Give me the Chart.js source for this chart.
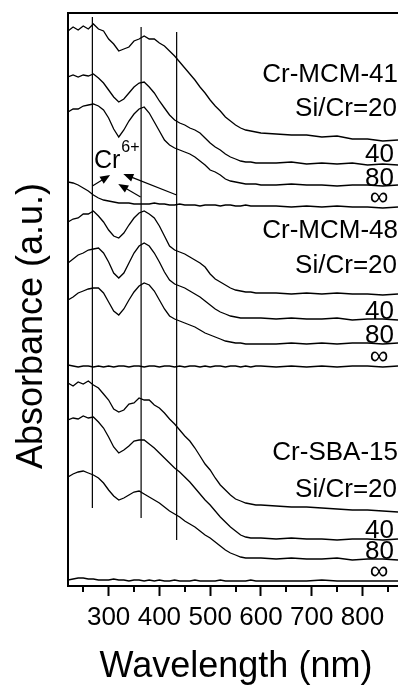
<!DOCTYPE html>
<html>
<head>
<meta charset="utf-8">
<script src="https://cdn.jsdelivr.net/npm/chart.js@4.4.1/dist/chart.umd.min.js"></script>
<style>
  html, body { margin: 0; padding: 0; background: #fff; }
  canvas { display: block; }
</style>
</head>
<body>
<canvas id="uvChart" width="398" height="685"></canvas>
<script>
// wavelength grid (nm)
const wavelengths = [220, 230, 240, 250, 260, 270, 280, 290, 300, 310, 320, 330, 340, 350, 360, 370, 380, 390, 400,
    410, 420, 430, 440, 450, 460, 470, 480, 490, 500, 510, 520, 530, 540, 550, 560, 570, 580, 590, 600,
    630, 660, 690, 720, 750, 780, 810, 840, 870];

// stacked absorbance (a.u., offset)
const mcm41_20 = [555, 559, 556, 560, 557, 562, 557, 555, 547, 542, 535, 537, 539, 545, 547, 550, 547, 547, 543,
    540, 535, 530, 524, 518, 512, 506, 499, 493, 486, 480, 475, 469, 465, 461, 458, 456, 455, 454, 453,
    452, 451, 451, 449, 450, 447, 447, 445, 446];
const mcm41_40 = [509, 511, 509, 511, 510, 512, 508, 503, 496, 489, 484, 487, 493, 499, 503, 504, 499, 493, 485,
    478, 471, 466, 463, 461, 458, 456, 453, 448, 443, 439, 436, 432, 429, 427, 425, 424, 424, 423, 423,
    423, 424, 422, 423, 422, 423, 421, 422, 421];
const mcm41_80 = [474, 477, 477, 480, 481, 482, 480, 476, 468, 457, 449, 456, 465, 472, 477, 479, 473, 464, 455,
    446, 441, 438, 436, 434, 432, 429, 425, 421, 416, 414, 411, 407, 405, 404, 403, 402, 402, 402, 401,
    401, 402, 401, 401, 400, 401, 401, 400, 401];
const mcm41_inf = [404, 403, 401, 398, 395, 391, 388, 386, 385, 384, 383, 383, 383, 382, 382, 382, 382, 383, 382,
    382, 381, 381, 382, 381, 381, 381, 380, 381, 381, 381, 380, 381, 381, 380, 380, 381, 380, 380, 380,
    380, 379, 380, 379, 380, 379, 379, 378, 379];

const mcm48_20 = [364, 367, 368, 372, 372, 375, 370, 364, 356, 350, 348, 353, 361, 368, 373, 375, 372, 368, 360,
    350, 340, 336, 334, 332, 329, 326, 323, 319, 312, 307, 304, 301, 298, 296, 295, 294, 294, 293, 293,
    293, 292, 293, 292, 293, 292, 292, 291, 292];
const mcm48_40 = [323, 327, 331, 333, 336, 337, 338, 333, 324, 313, 308, 313, 323, 333, 340, 343, 340, 333, 324,
    314, 306, 302, 300, 298, 295, 292, 289, 285, 281, 277, 274, 272, 270, 269, 268, 268, 268, 268, 268,
    267, 268, 267, 267, 268, 266, 267, 267, 266];
const mcm48_80 = [286, 289, 293, 295, 297, 298, 298, 293, 284, 275, 271, 277, 286, 294, 300, 303, 301, 295, 286,
    277, 270, 267, 265, 263, 261, 259, 256, 253, 251, 249, 247, 245, 244, 243, 243, 242, 242, 242, 242,
    242, 243, 242, 243, 242, 243, 243, 242, 243];
const mcm48_inf = [221, 220, 219, 220, 220, 219, 220, 219, 220, 219, 220, 220, 219, 220, 220, 219, 220, 220, 219,
    220, 220, 219, 220, 219, 220, 220, 219, 220, 219, 220, 220, 219, 220, 220, 219, 220, 219, 220, 220,
    219, 220, 219, 220, 219, 220, 220, 219, 220];

const sba15_20 = [203, 200, 204, 202, 205, 201, 198, 192, 186, 177, 174, 176, 182, 183, 188, 186, 186, 181, 178,
    173, 167, 162, 156, 150, 145, 138, 130, 122, 116, 108, 101, 96, 91, 87, 85, 83, 82, 81, 81,
    80, 79, 79, 78, 77, 76, 76, 75, 74];
const sba15_40 = [166, 168, 167, 170, 168, 169, 164, 158, 149, 139, 133, 136, 140, 145, 146, 146, 142, 138, 133,
    128, 123, 118, 114, 109, 104, 98, 92, 86, 81, 75, 69, 64, 59, 55, 51, 49, 48, 48, 48,
    47, 48, 47, 47, 46, 47, 47, 46, 47];
const sba15_80 = [109, 112, 114, 115, 113, 111, 108, 103, 96, 90, 86, 88, 91, 94, 95, 92, 89, 86, 83,
    79, 75, 72, 69, 65, 62, 59, 55, 51, 48, 44, 40, 36, 33, 31, 29, 28, 28, 28, 28,
    27, 28, 27, 27, 28, 26, 27, 27, 26];
const sba15_inf = [6, 7, 8, 8, 7, 7, 6, 6, 6, 7, 6, 6, 5, 6, 6, 5, 6, 5, 6,
    5, 5, 6, 5, 5, 5, 6, 5, 5, 5, 5, 6, 5, 5, 5, 5, 5, 6, 5, 5,
    5, 5, 5, 6, 5, 5, 5, 5, 5];

const allSeries = [mcm41_20, mcm41_40, mcm41_80, mcm41_inf, mcm48_20, mcm48_40, mcm48_80, mcm48_inf,
    sba15_20, sba15_40, sba15_80, sba15_inf];

// axis ticks
const majorTicks = [300, 400, 500, 600, 700, 800];
const minorTicks = [250, 350, 450, 550, 650, 750, 850];

// vertical guide lines (nm, top, bottom)
const markerNm = [268, 364, 434];
const markerTop = [569, 559, 554];
const markerBottom = [78, 68, 46];

// Cr6+ arrows
const arrowFromNm = [268, 363, 434];
const arrowFromAbs = [400, 389, 391];
const arrowToNm = [303, 319, 329];
const arrowToAbs = [411, 402, 412];

// curve labels (right aligned)
const labelText = ['Cr-MCM-41', 'Si/Cr=20', '40', '80', '\u221E',
    'Cr-MCM-48', 'Si/Cr=20', '40', '80', '\u221E',
    'Cr-SBA-15', 'Si/Cr=20', '40', '80', '\u221E'];
const labelNm = [870, 868, 862, 862, 851, 870, 868, 862, 862, 851, 870, 868, 862, 862, 851];
const labelAbs = [504, 470, 424, 400, 381, 348, 313, 267, 243, 222, 126, 89, 48, 27, 7];

const FONT = '"Liberation Sans", Arial, Helvetica, sans-serif';

const datasets = [];
allSeries.forEach(s => {
    datasets.push({
        data: s.map((v, i) => ({ x: wavelengths[i], y: v })),
        borderColor: '#000',
        borderWidth: 1.3,
        pointRadius: 0,
        showLine: true,
        tension: 0,
        xAxisID: 'x',
        yAxisID: 'y'
    });
});
markerNm.forEach((nm, i) => {
    datasets.push({
        data: [{ x: nm, y: markerBottom[i] }, { x: nm, y: markerTop[i] }],
        borderColor: '#000',
        borderWidth: 1.2,
        pointRadius: 0,
        showLine: true,
        xAxisID: 'x',
        yAxisID: 'y'
    });
});

function drawArrow(ctx, x1, y1, x2, y2) {
    const a = Math.atan2(y2 - y1, x2 - x1);
    const len = 10, half = 4;
    ctx.beginPath();
    ctx.moveTo(x1, y1);
    ctx.lineTo(x2 - Math.cos(a) * len * 0.8, y2 - Math.sin(a) * len * 0.8);
    ctx.stroke();
    ctx.beginPath();
    ctx.moveTo(x2, y2);
    ctx.lineTo(x2 - Math.cos(a) * len - Math.sin(a) * half, y2 - Math.sin(a) * len + Math.cos(a) * half);
    ctx.lineTo(x2 - Math.cos(a) * len + Math.sin(a) * half, y2 - Math.sin(a) * len - Math.cos(a) * half);
    ctx.closePath();
    ctx.fill();
}

const extras = {
    id: 'extras',
    afterDraw(chart) {
        const ctx = chart.ctx;
        const xs = chart.scales.x, ys = chart.scales.y;
        ctx.save();
        ctx.fillStyle = '#000';
        ctx.strokeStyle = '#000';

        // minor ticks
        ctx.lineWidth = 2;
        const yb = chart.chartArea.bottom;
        minorTicks.forEach(v => {
            const px = Math.round(xs.getPixelForValue(v));
            ctx.beginPath();
            ctx.moveTo(px, yb);
            ctx.lineTo(px, yb + 6);
            ctx.stroke();
        });

        // arrows
        ctx.lineWidth = 1.2;
        arrowFromNm.forEach((nm, i) => {
            drawArrow(ctx, xs.getPixelForValue(nm), ys.getPixelForValue(arrowFromAbs[i]),
                xs.getPixelForValue(arrowToNm[i]), ys.getPixelForValue(arrowToAbs[i]));
        });

        // Cr6+
        ctx.textAlign = 'left';
        ctx.textBaseline = 'alphabetic';
        ctx.font = '25px ' + FONT;
        ctx.fillText('Cr', xs.getPixelForValue(271), ys.getPixelForValue(418));
        ctx.font = '16px ' + FONT;
        ctx.fillText('6+', xs.getPixelForValue(325), ys.getPixelForValue(434));

        // curve labels
        ctx.textAlign = 'right';
        ctx.font = '26px ' + FONT;
        labelText.forEach((t, i) => {
            ctx.fillText(t, xs.getPixelForValue(labelNm[i]), ys.getPixelForValue(labelAbs[i]));
        });

        // axis titles
        ctx.font = '36px ' + FONT;
        ctx.textAlign = 'center';
        ctx.fillText('Wavelength (nm)', 236, 677);
        ctx.translate(42, 326);
        ctx.rotate(-Math.PI / 2);
        ctx.fillText('Absorbance (a.u.)', 0, 0);
        ctx.restore();
    }
};

const ctx = document.getElementById('uvChart').getContext('2d');
new Chart(ctx, {
    type: 'scatter',
    data: { datasets: datasets },
    plugins: [extras],
    options: {
        responsive: false,
        animation: false,
        events: [],
        layout: { padding: 0 },
        plugins: { legend: { display: false }, tooltip: { enabled: false } },
        scales: {
            x: {
                type: 'linear',
                position: 'bottom',
                min: 220,
                max: 870,
                afterFit: s => { s.height = 99; },
                afterBuildTicks: s => { s.ticks = majorTicks.map(v => ({ value: v })); },
                ticks: { color: '#000', font: { family: FONT, size: 26 }, padding: 6, maxRotation: 0, autoSkip: false },
                grid: { drawOnChartArea: false, tickLength: 10, tickWidth: 2, tickColor: '#000' },
                border: { color: '#000', width: 2 }
            },
            xTop: {
                type: 'linear',
                position: 'top',
                min: 220,
                max: 870,
                afterFit: s => { s.height = 13; },
                ticks: { display: false },
                grid: { drawOnChartArea: false, drawTicks: false },
                border: { color: '#000', width: 2 }
            },
            y: {
                type: 'linear',
                min: 0,
                max: 573,
                afterFit: s => { s.width = 68; },
                ticks: { display: false },
                grid: { drawOnChartArea: false, drawTicks: false },
                border: { color: '#000', width: 2 }
            }
        }
    }
});
</script>
</body>
</html>
